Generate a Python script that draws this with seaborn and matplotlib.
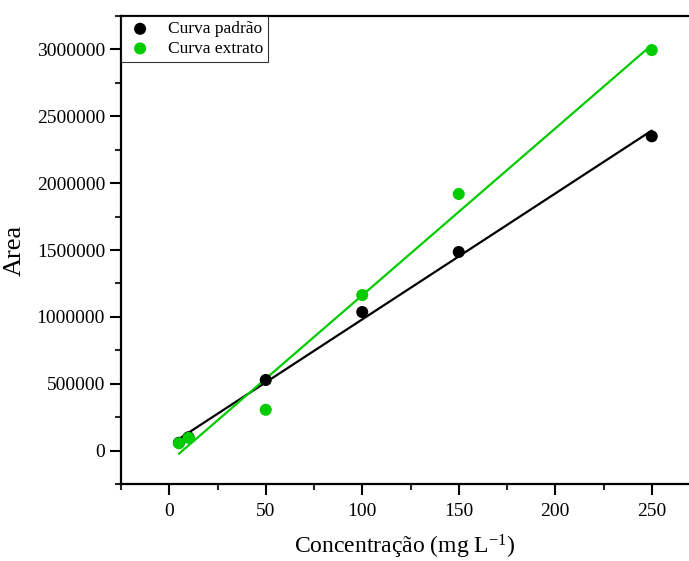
import matplotlib
matplotlib.use("Agg")
import matplotlib.pyplot as plt
import seaborn as sns
import pandas as pd
from matplotlib.ticker import MultipleLocator

# Calibration data: concentration (mg/L) vs. peak area
conc = [5, 10, 50, 100, 150, 250]
area_padrao = [58000, 100000, 528000, 1036000, 1485000, 2350000]
area_extrato = [55000, 95000, 305000, 1163000, 1919000, 2995000]

series_names = ["Curva padrão", "Curva extrato"]
series_colors = ["#000000", "#00CC00"]

sns.set_theme(style="ticks")
plt.rcParams["font.family"] = ["Liberation Serif", "DejaVu Serif"]
plt.rcParams["mathtext.default"] = "regular"

fig = plt.figure(figsize=(6.89, 5.61), dpi=100)
ax = fig.add_axes([121 / 689, 1 - 484 / 561, 1 - 121 / 689, (484 - 16) / 561])

frames = [
    pd.DataFrame({"conc": conc, "area": area_padrao}),
    pd.DataFrame({"conc": conc, "area": area_extrato}),
]

# linear fits first, points drawn on top
for df, col in zip(frames, series_colors):
    sns.regplot(data=df, x="conc", y="area", ax=ax, scatter=False, ci=None,
                truncate=True, color=col, line_kws={"linewidth": 1.6})
for df, name, col in zip(frames, series_names, series_colors):
    sns.scatterplot(data=df, x="conc", y="area", ax=ax, color=col, s=75,
                    edgecolor="none", label=name, zorder=3)

ax.set_xlim(-25, 269.3)
ax.set_ylim(-250000, 3250000)
ax.xaxis.set_major_locator(MultipleLocator(50))
ax.xaxis.set_minor_locator(MultipleLocator(25))
ax.yaxis.set_major_locator(MultipleLocator(500000))
ax.yaxis.set_minor_locator(MultipleLocator(250000))
ax.ticklabel_format(axis="y", style="plain", useOffset=False)

ax.tick_params(axis="both", which="major", direction="out", length=8,
               width=1.5, labelsize=14, colors="black", labelcolor="black")
ax.tick_params(axis="both", which="minor", direction="out", length=4.5,
               width=1.5)
ax.tick_params(axis="x", pad=6)

for side in ["left", "bottom", "top"]:
    ax.spines[side].set_linewidth(1.6)
    ax.spines[side].set_color("black")
ax.spines["right"].set_visible(False)

ax.set_xlabel("Concentração (mg L$^{\\mathregular{-1}}$)", fontsize=17,
              labelpad=9, color="black")
ax.set_ylabel("Area", fontsize=19, labelpad=8, color="black")

leg = ax.legend(loc="upper left", bbox_to_anchor=(0, 1), borderaxespad=0,
                fontsize=12.5, frameon=True, fancybox=False,
                edgecolor="black", handletextpad=0.8, borderpad=0.3,
                labelspacing=0.2, handlelength=1.6, markerscale=1.0)
leg.get_frame().set_linewidth(0.8)
for t in leg.get_texts():
    t.set_color("black")

fig.savefig("out.png", dpi=100)
